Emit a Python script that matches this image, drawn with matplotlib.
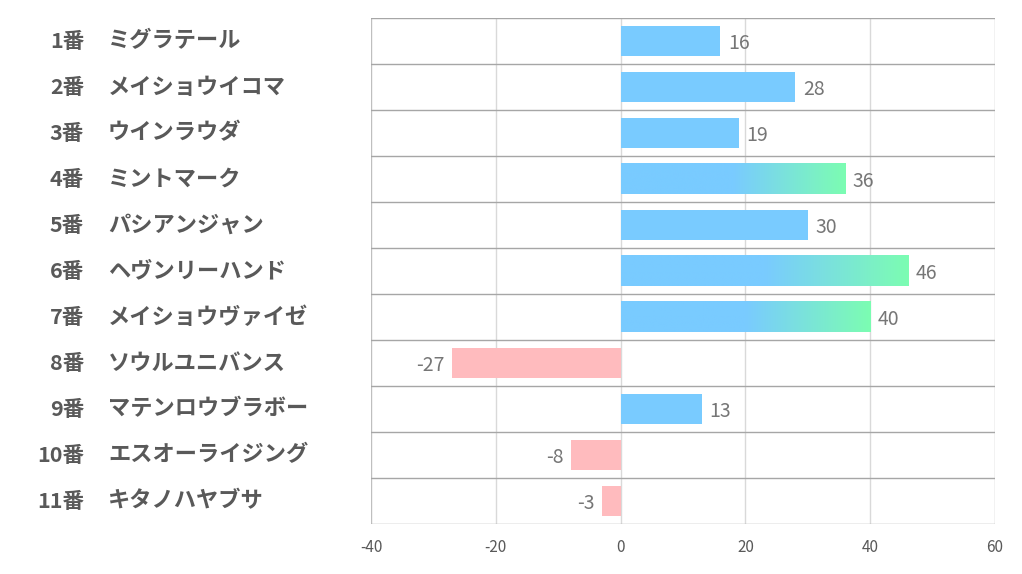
import matplotlib.pyplot as plt
import matplotlib.transforms as mtransforms
import numpy as np
from matplotlib.colors import LinearSegmentedColormap


# data
numbers = ['1番', '2番', '3番', '4番', '5番', '6番', '7番', '8番', '9番', '10番', '11番']
names = ['ミグラテール', 'メイショウイコマ', 'ウインラウダ', 'ミントマーク', 'パシアンジャン',
         'ヘヴンリーハンド', 'メイショウヴァイゼ', 'ソウルユニバンス', 'マテンロウブラボー',
         'エスオーライジング', 'キタノハヤブサ']
values = [16, 28, 19, 36, 30, 46, 40, -27, 13, -8, -3]
gradient_bars = [False, False, False, True, False, True, True, False, False, False, False]
x_ticks = [-40, -20, 0, 20, 40, 60]

plt.rcParams['font.family'] = ['Noto Sans CJK JP', 'DejaVu Sans']

blue = '#79CBFF'
green = '#7CFDB2'
pink = '#FFBBBE'
label_gray = '#595959'
value_gray = '#767676'

fig = plt.figure(figsize=(10.22, 5.74), dpi=100)
ax = fig.add_axes([371/1022, 1-524/574, 624/1022, 506/574])

n = len(values)
ypos = np.arange(n)
bar_h = 0.67

grad_cmap = LinearSegmentedColormap.from_list('bg', [blue, blue, green])

for y, v, g in zip(ypos, values, gradient_bars):
    if v >= 0:
        if g:
            grad = np.linspace(0, 1, 256).reshape(1, -1)
            ax.imshow(grad, cmap=grad_cmap, extent=[0, v, y+bar_h/2, y-bar_h/2],
                      aspect='auto', zorder=2, interpolation='bilinear')
        else:
            ax.barh(y, v, height=bar_h, color=blue, zorder=2)
        ax.text(v+1.2, y+0.05, str(v), va='center', ha='left', fontsize=14, color=value_gray)
    else:
        ax.barh(y, v, height=bar_h, color=pink, zorder=2)
        ax.text(v-1.2, y+0.05, str(v), va='center', ha='right', fontsize=14, color=value_gray)

ax.set_xlim(-40, 60)
ax.set_ylim(n-0.5, -0.5)
ax.set_xticks(x_ticks)
ax.set_xticklabels([str(t) for t in x_ticks], fontsize=11, color=label_gray)
ax.tick_params(axis='x', length=0, pad=11)
ax.set_yticks([])

# grid lines
for t in x_ticks:
    c = '#BFBFBF' if t in (x_ticks[0], x_ticks[-1]) else '#D9D9D9'
    ax.axvline(t, color=c, lw=1, zorder=1)
for b in np.arange(-0.5, n, 1):
    ax.axhline(b, color='#A6A6A6', lw=1, zorder=3)

for s in ax.spines.values():
    s.set_visible(False)

# row labels
trans = mtransforms.blended_transform_factory(fig.transFigure, ax.transData)
for y, num, name in zip(ypos, numbers, names):
    fig.text(84/1022, y, num, transform=trans, ha='right', va='center',
             fontsize=15.5, fontweight='bold', color=label_gray)
    fig.text(108/1022, y, name, transform=trans, ha='left', va='center',
             fontsize=16, fontweight='bold', color=label_gray)

fig.savefig('out.png', dpi=100)
